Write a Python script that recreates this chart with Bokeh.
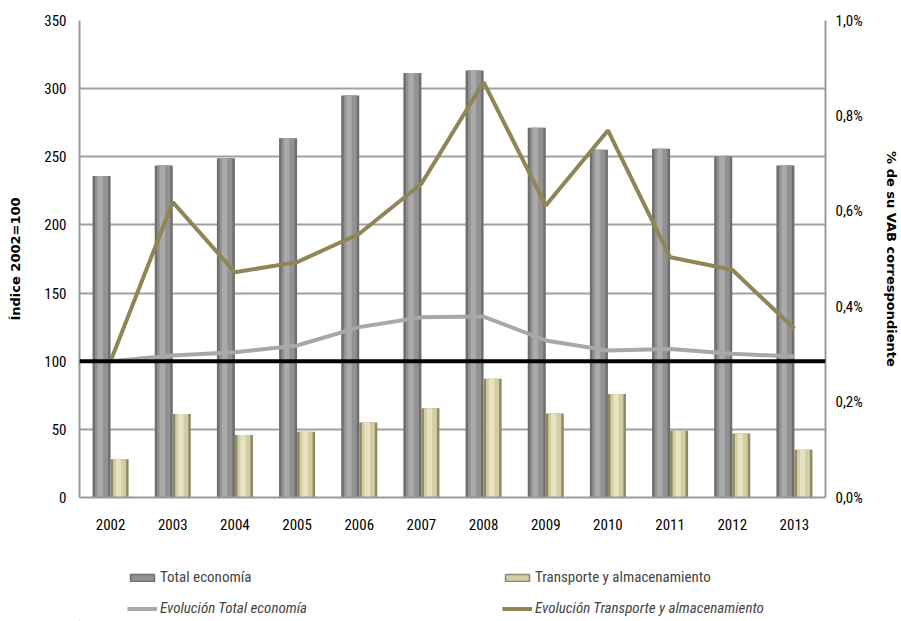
from bokeh.plotting import figure
from bokeh.layouts import column
from bokeh.models import (ColumnDataSource, Range1d, FactorRange, LinearAxis, FixedTicker,
                          CustomJSTickFormatter, Span, Legend, LegendItem)
from bokeh.transform import dodge
from bokeh.embed import file_html
from bokeh.resources import INLINE

years = ["2002", "2003", "2004", "2005", "2006", "2007", "2008", "2009", "2010", "2011", "2012", "2013"]
# % of VAB (right axis)
total_pct = [0.674, 0.696, 0.711, 0.753, 0.843, 0.890, 0.895, 0.775, 0.729, 0.731, 0.715, 0.696]
transp_pct = [0.080, 0.175, 0.131, 0.138, 0.157, 0.187, 0.249, 0.176, 0.217, 0.140, 0.134, 0.100]
# Index 2002=100 (left axis)
evol_total = [100, 104.2, 106.6, 111.5, 125.0, 132.3, 132.8, 115.2, 107.9, 109.0, 105.4, 103.5]
evol_transp = [100, 216.7, 165.3, 172.7, 193.5, 230.2, 304.8, 214.3, 269.3, 176.3, 167.1, 123.8]
left_ticks = [0, 50, 100, 150, 200, 250, 300, 350]
right_ticks = [0.0, 0.2, 0.4, 0.6, 0.8, 1.0]
base_index = 100
series_names = ["Total economía", "Transporte y almacenamiento",
                "Evolución Total economía", "Evolución Transporte y almacenamiento"]

src = ColumnDataSource(dict(year=years, tot=total_pct, tra=transp_pct,
                            et=evol_total, etr=evol_transp))

FONT = "Liberation Sans Narrow, Roboto Condensed, Liberation Sans"
GREY_EDGE, GREY_MID, GREY_HI = "#6f6f6f", "#929292", "#aaaaaa"
KH_EDGE, KH_MID, KH_HI = "#8f8a66", "#d3cda2", "#e6e2c2"
LINE_TOT, LINE_TRA = "#a8a8a8", "#8f8555"

p = figure(width=901, height=543, x_range=FactorRange(*years, range_padding=0),
           y_range=Range1d(0, 350), output_backend="svg", toolbar_location=None,
           min_border_left=79, min_border_right=76, min_border_top=20, min_border_bottom=46)
p.extra_y_ranges = {"pct": Range1d(0, 1.0)}
p.outline_line_color = None

bw = 0.29
xg = dodge("year", -0.145, range=p.x_range)
xk = dodge("year", 0.145, range=p.x_range)
p.vbar(x=xg, top="tot", width=bw, source=src, y_range_name="pct",
       fill_color=GREY_EDGE, line_color=None)
p.vbar(x=xg, top="tot", width=bw * 0.72, source=src, y_range_name="pct",
       fill_color=GREY_MID, line_color=None)
p.vbar(x=dodge("year", -0.165, range=p.x_range), top="tot", width=bw * 0.3, source=src,
       y_range_name="pct", fill_color=GREY_HI, line_color=None)

p.vbar(x=xk, top="tra", width=bw, source=src, y_range_name="pct",
       fill_color=KH_EDGE, line_color=None)
p.vbar(x=xk, top="tra", width=bw * 0.72, source=src, y_range_name="pct",
       fill_color=KH_MID, line_color=None)
p.vbar(x=dodge("year", 0.13, range=p.x_range), top="tra", width=bw * 0.3, source=src,
       y_range_name="pct", fill_color=KH_HI, line_color=None)

p.add_layout(Span(location=base_index, dimension="width", line_color="black", line_width=4))

p.line(x="year", y="et", source=src, line_color=LINE_TOT, line_width=4)
p.line(x="year", y="etr", source=src, line_color=LINE_TRA, line_width=4)

p.yaxis.ticker = FixedTicker(ticks=left_ticks)
p.yaxis.axis_label = "Índice 2002=100"
p.yaxis.axis_label_text_font = "DejaVu Sans"
p.yaxis.axis_label_text_font_style = "bold"
p.yaxis.axis_label_text_font_size = "13px"
p.yaxis.axis_label_standoff = 18

ra = LinearAxis(y_range_name="pct", ticker=FixedTicker(ticks=right_ticks),
                formatter=CustomJSTickFormatter(code="return tick.toFixed(1).replace('.', ',') + '%';"),
                axis_label="% de su VAB correspondiente")
ra.axis_label_text_font = "DejaVu Sans"
ra.axis_label_text_font_style = "bold"
ra.axis_label_text_font_size = "13px"
ra.axis_label_standoff = 18
p.add_layout(ra, "right")

for ax in [p.yaxis[0], ra, p.xaxis[0]]:
    ax.major_label_text_font = FONT
    ax.major_label_text_font_size = "15px"
    ax.major_label_text_color = "black"
    ax.axis_line_color = "#9a9a9a"
    ax.axis_line_width = 2
    ax.major_tick_line_color = None
    ax.minor_tick_line_color = None
    ax.major_tick_out = 0
    ax.major_tick_in = 0
    ax.minor_tick_out = 0
    ax.minor_tick_in = 0
    ax.major_label_standoff = 13
    ax.axis_label_text_color = "black"
ra.major_label_standoff = 10
p.xaxis.major_label_standoff = 21

p.xgrid.grid_line_color = None
p.ygrid.grid_line_color = "#a0a0a0"
p.ygrid.grid_line_width = 2

# legend strip below the chart; its swatch renderers sit outside the visible range
lf = figure(width=901, height=78, x_range=Range1d(0, 1), y_range=Range1d(0, 1),
            output_backend="svg", toolbar_location=None, min_border=0)
lf.axis.visible = False
lf.grid.visible = False
lf.outline_line_color = None
dummy = ColumnDataSource(dict(x=[-5.0], y=[-5.0], t=[-5.0]))
rg = lf.vbar(x="x", top="t", width=0.1, source=dummy, fill_color=GREY_MID,
             line_color=GREY_EDGE, line_width=1.5)
rk = lf.vbar(x="x", top="t", width=0.1, source=dummy, fill_color=KH_MID,
             line_color=KH_EDGE, line_width=1.5)
rl1 = lf.line(x="x", y="y", source=dummy, line_color=LINE_TOT, line_width=4)
rl2 = lf.line(x="x", y="y", source=dummy, line_color=LINE_TRA, line_width=4)

leg1 = Legend(items=[LegendItem(label=series_names[0], renderers=[rg]),
                     LegendItem(label=series_names[1], renderers=[rk])],
              orientation="horizontal", location=(48, 35))
leg2 = Legend(items=[LegendItem(label=series_names[2], renderers=[rl1]),
                     LegendItem(label=series_names[3], renderers=[rl2])],
              orientation="horizontal", location=(48, 4))
leg2.label_text_font_style = "italic"
for lg in (leg1, leg2):
    lg.border_line_color = None
    lg.background_fill_alpha = 0
    lg.label_text_font = FONT
    lg.label_text_font_size = "15px"
    lg.glyph_width = 30
    lg.glyph_height = 9
    lg.label_standoff = 3
    lg.label_width = 330
    lg.label_height = 16
    lg.spacing = 12
    lg.padding = 0
    lg.margin = 0
    lf.add_layout(lg, "center")

open("out.html", "w").write(file_html(column(p, lf), INLINE))
